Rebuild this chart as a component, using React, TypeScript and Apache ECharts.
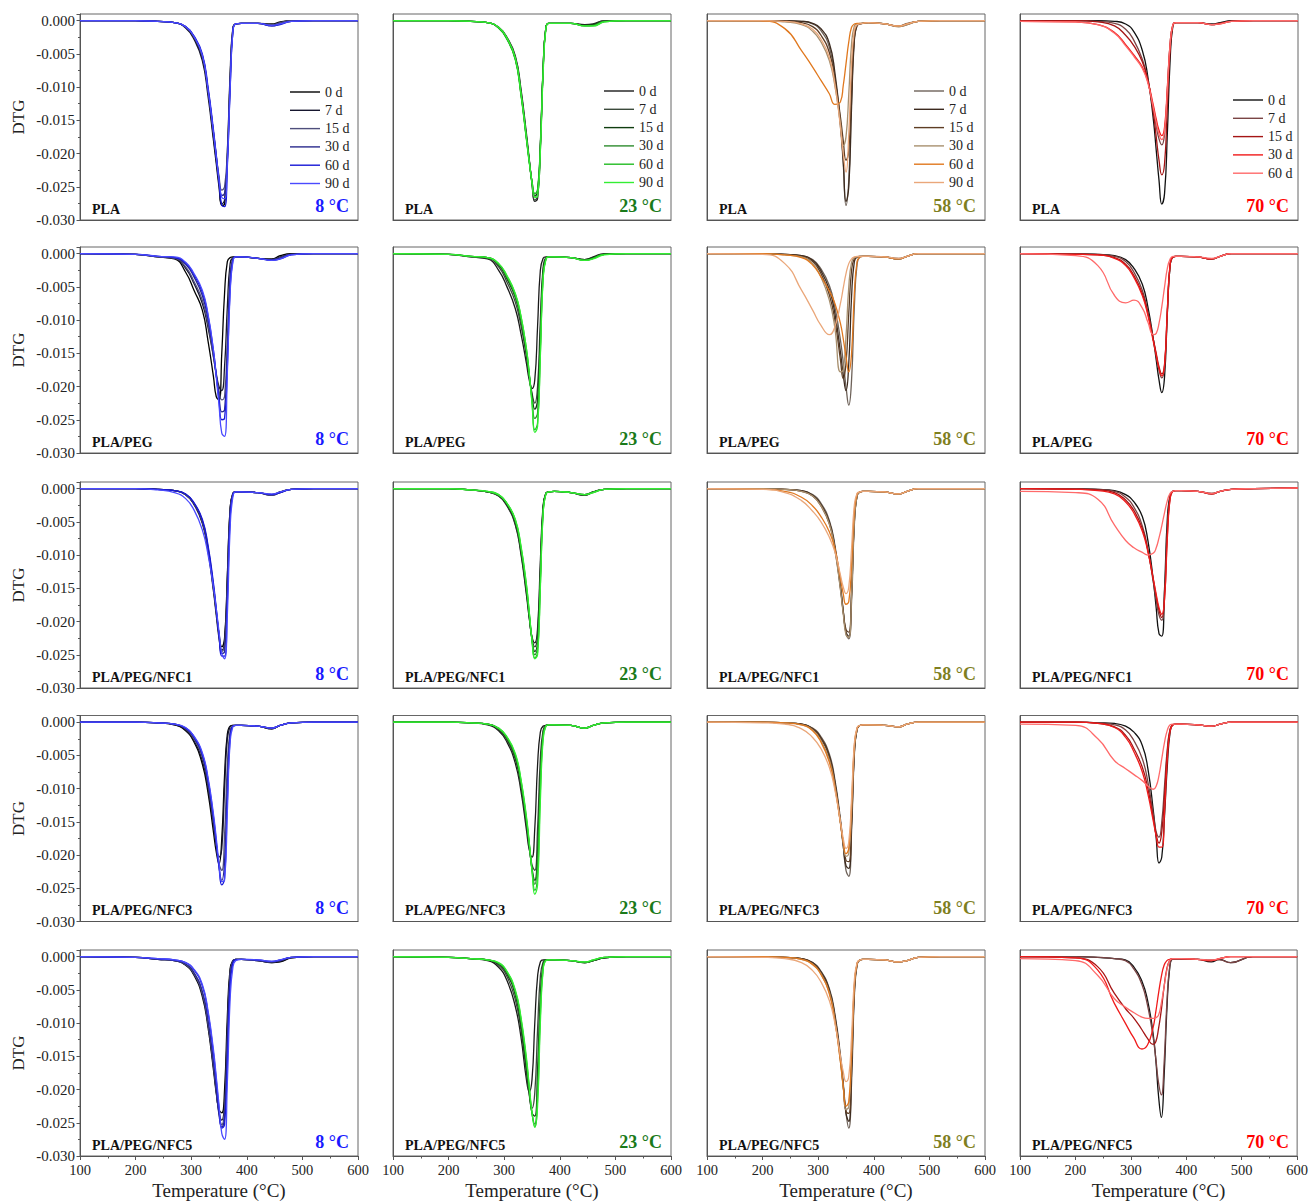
import React, { useEffect, useRef } from 'react';
import * as echarts from 'echarts';

// ---------- data ----------
const temperature = [100, 200, 240, 270, 290, 305, 320, 330, 340, 345, 350, 355, 360, 365, 370, 375, 380, 390, 420, 445, 460, 480, 520, 600];
const xTicks = [100, 200, 300, 400, 500, 600];
const yTicks = [-0.03, -0.025, -0.02, -0.015, -0.01, -0.005, 0];
const materials = ['PLA', 'PLA/PEG', 'PLA/PEG/NFC1', 'PLA/PEG/NFC3', 'PLA/PEG/NFC5'];
const storageTemps = ['8 °C', '23 °C', '58 °C', '70 °C'];
const tempColors = ['#1a1aff', '#1a7a1a', '#7f7f1f', '#ff0000'];
const days6 = ['0 d', '7 d', '15 d', '30 d', '60 d', '90 d'];
const days5 = ['0 d', '7 d', '15 d', '30 d', '60 d'];
const colDays = [days6, days6, days6, days5];
const colors8 = ['#000000', '#16162e', '#4e4e7c', '#2a2a8c', '#1717d6', '#4a4aff'];
const colors23 = ['#1a1a1a', '#3b4a3b', '#0f3d0f', '#2e8b2e', '#22bb22', '#33ee33'];
const colors58 = ['#6e6259', '#3c2a1e', '#5e3d24', '#a8906f', '#e0781e', '#eaa77a'];
const colors70 = ['#111111', '#7a4545', '#a51515', '#f01a1a', '#ff6a6a'];
const colColors = [colors8, colors23, colors58, colors70];

// DTG values in units of 10^-3 (one array per ageing time, sampled at `temperature`)
const PLA_8 = [
  [0,0,-0.1,-0.3,-1.0,-2.6,-5.6,-10.5,-17.5,-21,-24.5,-27.8,-27.6,-21,-9,-1.2,-0.5,-0.4,-0.4,-0.5,-0.2,0,0,0],
  [0,0,-0.1,-0.3,-1.1,-2.8,-6.0,-11.2,-18,-21.5,-25,-27.6,-27,-20,-8,-1,-0.5,-0.4,-0.4,-0.7,-0.3,0,0,0],
  [0,0,-0.1,-0.3,-1.0,-2.5,-5.4,-10.3,-16.8,-20.2,-23.4,-25.5,-25,-19.5,-8.8,-1.2,-0.5,-0.4,-0.4,-0.6,-0.3,0,0,0],
  [0,0,-0.1,-0.3,-0.9,-2.4,-5.2,-10.2,-16.8,-20.4,-23.8,-26.3,-26,-20.8,-9.8,-1.5,-0.5,-0.4,-0.4,-0.8,-0.5,-0.1,0,0],
  [0,0,-0.1,-0.3,-0.9,-2.3,-5.0,-9.8,-16.4,-20.2,-24.2,-27.8,-28,-22,-10.5,-1.6,-0.5,-0.4,-0.4,-0.8,-0.6,-0.1,0,0],
  [0,0,-0.1,-0.3,-0.9,-2.4,-5.2,-10.2,-16.8,-20.4,-23.9,-26.6,-26.8,-21.5,-10.2,-1.6,-0.5,-0.4,-0.4,-0.7,-0.5,-0.1,0,0],
];
const PLA_23 = [
  [0,0,-0.1,-0.3,-1.0,-2.5,-5.3,-10.2,-17,-20.8,-24.5,-27.2,-26.8,-19.5,-7.5,-1.0,-0.4,-0.4,-0.4,-0.6,-0.5,0,0,0],
  [0,0,-0.1,-0.3,-1.0,-2.6,-5.5,-10.5,-17.4,-21,-24.6,-27,-26.4,-19,-7.2,-1.0,-0.4,-0.4,-0.4,-0.7,-0.6,0,0,0],
  [0,0,-0.1,-0.3,-1.1,-2.7,-5.7,-10.8,-17.6,-21,-24.3,-26.4,-25.8,-18.8,-7.2,-1.0,-0.4,-0.4,-0.4,-0.7,-0.6,-0.1,0,0],
  [0,0,-0.1,-0.3,-1.1,-2.8,-5.8,-11,-17.8,-21.2,-24.2,-26.1,-25.4,-18.5,-7,-1.0,-0.4,-0.4,-0.4,-0.8,-0.7,-0.1,0,0],
  [0,0,-0.1,-0.3,-1.1,-2.8,-5.9,-11.1,-17.9,-21.3,-24.2,-26.0,-25.6,-19,-7.5,-1.1,-0.4,-0.4,-0.4,-0.8,-0.8,-0.2,0,0],
  [0,0,-0.1,-0.3,-1.0,-2.6,-5.6,-10.8,-17.6,-21.1,-24.4,-26.6,-26.4,-19.8,-8,-1.2,-0.4,-0.4,-0.4,-0.8,-0.8,-0.2,0,0],
];
const PLA_58 = [
  [0,0,0,-0.1,-0.5,-1.5,-4,-8.5,-16,-21.5,-27.8,-24,-12,-2.5,-0.6,-0.5,-0.4,-0.3,-0.5,-0.8,-0.4,-0.1,0,0],
  [0,0,0,-0.1,-0.4,-1.2,-3.4,-7.8,-15.4,-21,-27.2,-25,-13,-3,-0.7,-0.5,-0.4,-0.3,-0.5,-0.8,-0.5,-0.1,0,0],
  [0,0,-0.1,-0.3,-0.9,-2.2,-4.8,-8.8,-14.5,-18,-21,-19.5,-10,-2.5,-0.7,-0.5,-0.4,-0.3,-0.5,-0.9,-0.6,-0.1,0,0],
  [0,0,-0.2,-0.6,-1.6,-3.2,-6,-9.8,-15.5,-18.8,-17.5,-11,-3.5,-0.8,-0.5,-0.4,-0.4,-0.3,-0.5,-0.9,-0.6,-0.1,0,0],
  [0,-0.05,-1.2,-4.5,-7,-9,-11,-12.6,-12.2,-9.8,-6.5,-3.2,-1.0,-0.5,-0.4,-0.4,-0.4,-0.3,-0.5,-0.8,-0.5,-0.1,0,0],
  [0,0,-0.1,-0.5,-1.3,-2.8,-5.5,-9.5,-16,-20,-22.8,-17,-6.5,-1.5,-0.6,-0.5,-0.4,-0.3,-0.5,-0.8,-0.5,-0.1,0,0],
];
const PLA_70 = [
  [0,0,0,-0.1,-0.5,-1.7,-4.5,-8.5,-15,-19.5,-24,-27.6,-26,-17,-6,-0.8,-0.3,-0.3,-0.3,-0.5,-0.3,0,0,0],
  [0,0,-0.1,-0.4,-1.3,-3,-5.8,-9,-13.5,-15.8,-17.8,-18.7,-17,-10.5,-3.5,-0.6,-0.3,-0.3,-0.3,-0.6,-0.4,-0.1,0,0],
  [0,0,-0.2,-0.8,-2.2,-3.8,-6.2,-9,-14,-17.5,-21,-23.2,-21.5,-13,-4.5,-0.7,-0.3,-0.3,-0.3,-0.6,-0.4,-0.1,0,0],
  [-0.1,-0.2,-0.6,-1.8,-3.6,-5.2,-7,-9.2,-12.8,-14.8,-16.5,-17.3,-16,-10,-3.5,-0.6,-0.3,-0.3,-0.3,-0.6,-0.5,-0.1,0,0],
  [-0.1,-0.2,-0.6,-1.9,-3.8,-5.4,-7.2,-9.4,-13.2,-15.3,-17.1,-17.9,-16.6,-10.5,-3.6,-0.6,-0.3,-0.3,-0.3,-0.6,-0.5,-0.1,0,0],
];
const PEG_8 = [
  [0,-0.1,-0.5,-0.8,-2.8,-5.5,-8.5,-13,-18.5,-21.5,-22,-15,-6,-1.2,-0.6,-0.5,-0.5,-0.5,-0.7,-0.8,-0.3,0,0,0],
  [0,-0.1,-0.5,-0.7,-2.2,-4.5,-7.5,-11,-15.5,-18,-20,-20.6,-17,-8,-1.5,-0.6,-0.5,-0.5,-0.7,-0.9,-0.5,-0.1,0,0],
  [0,-0.1,-0.5,-0.7,-2.0,-4.2,-7,-10.5,-15.5,-18.3,-20.6,-22,-21.5,-13,-3,-0.7,-0.5,-0.5,-0.7,-0.9,-0.6,-0.1,0,0],
  [0,-0.1,-0.4,-0.6,-1.6,-3.5,-6.3,-9.8,-15,-18.3,-21.5,-23.8,-23.5,-15,-4,-0.8,-0.5,-0.5,-0.7,-0.9,-0.7,-0.1,0,0],
  [0,-0.1,-0.4,-0.6,-1.4,-3.2,-5.8,-9.2,-14.6,-18.2,-22,-25,-24.8,-17,-5.5,-1,-0.5,-0.5,-0.7,-1,-0.8,-0.2,0,0],
  [0,-0.1,-0.4,-0.5,-1.3,-3,-5.5,-9,-14.5,-18.5,-22.8,-27,-27.5,-18,-6,-1.2,-0.5,-0.5,-0.7,-1,-0.8,-0.2,0,0],
];
const PEG_23 = [
  [0,-0.1,-0.5,-0.8,-2.5,-5,-8.3,-12,-16.5,-19,-20.3,-19,-11,-2.5,-0.7,-0.5,-0.5,-0.5,-0.6,-0.9,-0.5,0,0,0],
  [0,-0.1,-0.5,-0.7,-2.0,-4.3,-7.3,-10.8,-15.5,-18.5,-21,-22.5,-20,-10,-2,-0.6,-0.5,-0.5,-0.6,-0.9,-0.6,-0.1,0,0],
  [0,-0.1,-0.4,-0.6,-1.7,-3.8,-6.6,-10,-15,-18.3,-21.3,-23.4,-22,-12,-2.5,-0.7,-0.5,-0.5,-0.6,-0.9,-0.6,-0.1,0,0],
  [0,-0.1,-0.4,-0.6,-1.6,-3.6,-6.4,-9.8,-14.8,-18.2,-21.8,-24.8,-24,-14,-3.2,-0.8,-0.5,-0.5,-0.6,-1,-0.7,-0.1,0,0],
  [0,-0.1,-0.4,-0.6,-1.5,-3.4,-6.1,-9.4,-14.4,-18,-22.3,-26.5,-25.5,-15,-3.5,-0.8,-0.5,-0.5,-0.6,-1,-0.7,-0.1,0,0],
  [0,-0.1,-0.4,-0.6,-1.5,-3.3,-6,-9.3,-14.3,-18,-22.5,-26.9,-26,-15.5,-3.8,-0.9,-0.5,-0.5,-0.6,-1,-0.8,-0.2,0,0],
];
const PEG_58 = [
  [0,0,-0.1,-0.3,-0.9,-2.3,-4.8,-8,-13,-16.3,-20,-22.8,-19,-8,-1.5,-0.5,-0.4,-0.4,-0.5,-0.7,-0.4,0,0,0],
  [0,0,-0.1,-0.3,-1.0,-2.6,-5.4,-9,-14.8,-18.2,-20.6,-16.5,-6.5,-1.2,-0.5,-0.4,-0.4,-0.4,-0.5,-0.8,-0.4,0,0,0],
  [0,0,-0.1,-0.4,-1.2,-3,-6.2,-10,-16,-18.8,-16.5,-9,-2.5,-0.7,-0.5,-0.4,-0.4,-0.4,-0.5,-0.8,-0.4,0,0,0],
  [0,0,-0.2,-0.5,-1.5,-3.5,-7,-11.2,-17.8,-17.5,-12.5,-5,-1.3,-0.6,-0.5,-0.4,-0.4,-0.4,-0.5,-0.8,-0.4,0,0,0],
  [0,0,-0.2,-0.6,-1.7,-3.5,-5.6,-7.5,-10.5,-12.8,-15.5,-17.8,-15,-6,-1.2,-0.5,-0.4,-0.4,-0.5,-0.8,-0.4,0,0,0],
  [0,-0.1,-1.5,-5.5,-8.5,-10.8,-12.2,-11,-7.5,-5.2,-3,-1.5,-0.8,-0.5,-0.4,-0.4,-0.4,-0.4,-0.5,-0.7,-0.4,0,0,0],
];
const PEG_70 = [
  [0,0,-0.1,-0.3,-0.9,-2.2,-4.6,-8,-13,-16,-19,-20.9,-18.5,-9,-1.8,-0.5,-0.4,-0.4,-0.5,-0.8,-0.4,0,0,0],
  [0,0,-0.1,-0.4,-1.2,-2.8,-5.5,-8.8,-13,-15.3,-17.5,-18.7,-17,-9,-1.8,-0.5,-0.4,-0.4,-0.5,-0.8,-0.4,0,0,0],
  [0,-0.1,-0.2,-0.6,-1.6,-3.3,-6,-9,-13,-15,-17,-18.1,-16.6,-8.5,-1.6,-0.5,-0.4,-0.4,-0.5,-0.8,-0.4,0,0,0],
  [0,-0.1,-0.2,-0.7,-1.8,-3.6,-6.3,-9.3,-13.3,-15.3,-17.3,-18.4,-16.8,-8.5,-1.6,-0.5,-0.4,-0.4,-0.5,-0.8,-0.4,0,0,0],
  [0,-0.3,-1.8,-6.3,-7.4,-7.0,-8.2,-10.3,-12.2,-12,-10.5,-8,-5,-2.2,-0.8,-0.4,-0.4,-0.4,-0.5,-0.7,-0.4,0,0,0],
];
const NFC1_8 = [
  [0,0,-0.1,-0.3,-0.9,-2.3,-5,-9,-15,-18.5,-21.8,-23.8,-22.5,-13,-3,-0.7,-0.5,-0.5,-0.6,-0.9,-0.5,-0.1,0,0],
  [0,0,-0.1,-0.3,-0.9,-2.4,-5.2,-9.3,-15.4,-19,-22.5,-24.3,-23,-13.5,-3,-0.7,-0.5,-0.5,-0.6,-1,-0.5,-0.1,0,0],
  [0,0,-0.1,-0.3,-0.9,-2.3,-5,-9,-15,-18.6,-22,-24.5,-23.8,-14.5,-3.5,-0.8,-0.5,-0.5,-0.6,-1,-0.6,-0.1,0,0],
  [0,0,-0.1,-0.3,-0.8,-2.2,-4.8,-8.7,-14.6,-18.3,-22,-24.8,-24.5,-16,-4,-0.8,-0.5,-0.5,-0.6,-0.9,-0.6,-0.1,0,0],
  [0,0,-0.1,-0.3,-0.8,-2.1,-4.6,-8.4,-14.2,-18,-22,-25.2,-25.2,-17,-4.5,-0.9,-0.5,-0.5,-0.6,-0.9,-0.6,-0.1,0,0],
  [0,0,-0.2,-0.6,-1.5,-3.2,-6.2,-9.8,-14.8,-18,-21.5,-24.8,-25.6,-19,-6,-1.2,-0.5,-0.5,-0.6,-0.8,-0.5,-0.1,0,0],
];
const NFC1_23 = [
  [0,0,-0.2,-0.5,-1.1,-2.6,-5.5,-9.8,-16,-19.5,-22.3,-23.2,-21,-11,-2.5,-0.7,-0.5,-0.4,-0.6,-1,-0.5,-0.1,0,0],
  [0,0,-0.2,-0.5,-1.1,-2.5,-5.3,-9.5,-15.6,-19.3,-22.5,-23.8,-22,-12,-2.8,-0.7,-0.5,-0.4,-0.6,-1,-0.5,-0.1,0,0],
  [0,0,-0.2,-0.5,-1.0,-2.4,-5.1,-9.2,-15.3,-19.1,-22.7,-24.5,-23,-13,-3,-0.7,-0.5,-0.4,-0.6,-0.9,-0.5,-0.1,0,0],
  [0,0,-0.2,-0.5,-1.0,-2.3,-4.9,-9,-15,-18.9,-22.8,-25,-23.8,-13.5,-3.2,-0.7,-0.5,-0.4,-0.6,-0.9,-0.5,-0.1,0,0],
  [0,0,-0.2,-0.4,-0.9,-2.2,-4.7,-8.7,-14.6,-18.6,-22.8,-25.5,-24.6,-14.5,-3.5,-0.8,-0.5,-0.4,-0.6,-0.9,-0.6,-0.1,0,0],
  [0,0,-0.2,-0.4,-0.9,-2.2,-4.6,-8.5,-14.4,-18.5,-22.8,-25.6,-25,-15,-3.8,-0.8,-0.5,-0.4,-0.6,-0.9,-0.6,-0.1,0,0],
];
const NFC1_58 = [
  [0,0,-0.1,-0.3,-0.9,-2.2,-4.8,-8.5,-14.5,-18.3,-21.8,-22.6,-17,-5.5,-1,-0.5,-0.4,-0.4,-0.5,-0.8,-0.4,0,0,0],
  [0,0,-0.1,-0.3,-1.0,-2.4,-5,-8.8,-14.8,-18.5,-21.6,-22.2,-16,-5,-1,-0.5,-0.4,-0.4,-0.5,-0.8,-0.4,0,0,0],
  [0,0,-0.1,-0.4,-1.1,-2.6,-5.3,-9.1,-15,-18.5,-21.2,-21.6,-15.5,-4.8,-1,-0.5,-0.4,-0.4,-0.5,-0.8,-0.4,0,0,0],
  [0,0,-0.1,-0.4,-1.1,-2.6,-5.3,-9.2,-15.2,-18.8,-22,-22.4,-16.2,-5,-1,-0.5,-0.4,-0.4,-0.5,-0.8,-0.4,0,0,0],
  [0,-0.1,-0.4,-1.3,-2.6,-4.2,-6.5,-9,-13.5,-15.8,-17.4,-17,-11.5,-3.5,-0.8,-0.5,-0.4,-0.4,-0.5,-0.8,-0.4,0,0,0],
  [0,-0.1,-0.6,-1.8,-3.4,-5,-7.3,-9.5,-13,-14.8,-15.8,-14.8,-9,-2.5,-0.7,-0.5,-0.4,-0.4,-0.5,-0.8,-0.4,0,0,0],
];
const NFC1_70 = [
  [0,0,-0.1,-0.3,-0.9,-2,-4.2,-7.8,-14,-18,-21.8,-22.2,-15,-4.5,-0.9,-0.4,-0.3,-0.3,-0.4,-0.7,-0.4,-0.1,0,0.1],
  [0,0,-0.1,-0.4,-1.3,-2.8,-5.6,-9.2,-14.2,-16.8,-19,-19.8,-15.5,-6,-1.2,-0.4,-0.3,-0.3,-0.4,-0.8,-0.4,-0.1,0,0.1],
  [0,-0.1,-0.2,-0.6,-1.7,-3.3,-6,-9.3,-13.8,-16.2,-18.3,-19.4,-16.5,-7,-1.4,-0.4,-0.3,-0.3,-0.4,-0.8,-0.4,-0.1,0,0.1],
  [0,-0.1,-0.3,-0.8,-2,-3.7,-6.4,-9.5,-13.7,-15.9,-17.9,-18.9,-16.5,-7.5,-1.5,-0.4,-0.3,-0.3,-0.4,-0.8,-0.4,-0.1,0,0.1],
  [-0.4,-0.6,-1.6,-5.5,-7.8,-8.9,-9.6,-10,-9.7,-8.9,-7.4,-5.6,-3.6,-1.8,-0.7,-0.4,-0.3,-0.3,-0.4,-0.7,-0.4,-0.1,0,0.1],
];
const NFC3_8 = [
  [0,0,-0.1,-0.4,-1.3,-3,-6.3,-10.5,-16.5,-19.5,-21.3,-17.5,-8,-1.8,-0.6,-0.5,-0.5,-0.5,-0.6,-1,-0.5,-0.1,0,0],
  [0,0,-0.1,-0.4,-1.2,-2.8,-5.8,-9.8,-15.5,-18.5,-20.3,-19,-10,-2.5,-0.7,-0.5,-0.5,-0.5,-0.6,-1,-0.5,-0.1,0,0],
  [0,0,-0.1,-0.3,-1,-2.5,-5.3,-9.2,-15,-18.4,-21.3,-22.3,-17,-6.5,-1.3,-0.6,-0.5,-0.5,-0.6,-0.9,-0.5,-0.1,0,0],
  [0,0,-0.1,-0.3,-0.9,-2.3,-5,-8.8,-14.6,-18.2,-21.8,-23.8,-21,-9.5,-2,-0.6,-0.5,-0.5,-0.6,-0.9,-0.5,-0.1,0,0],
  [0,0,-0.1,-0.3,-0.9,-2.2,-4.8,-8.5,-14.2,-17.9,-21.8,-24.5,-23.5,-12,-2.5,-0.6,-0.5,-0.5,-0.6,-0.9,-0.5,-0.1,0,0],
  [0,0,-0.1,-0.3,-0.8,-2.1,-4.6,-8.2,-13.8,-17.4,-21.2,-24,-23.8,-13.5,-3,-0.7,-0.5,-0.5,-0.6,-0.9,-0.5,-0.1,0,0],
];
const NFC3_23 = [
  [0,0,-0.1,-0.4,-1.3,-3,-6.2,-10.3,-16.2,-19.2,-20.3,-16,-6.5,-1.5,-0.6,-0.5,-0.4,-0.4,-0.5,-0.9,-0.5,-0.1,0,0],
  [0,0,-0.1,-0.3,-1.1,-2.7,-5.6,-9.6,-15.4,-18.8,-21.5,-22.3,-16,-5.5,-1.2,-0.5,-0.4,-0.4,-0.5,-0.9,-0.5,-0.1,0,0],
  [0,0,-0.1,-0.3,-1,-2.5,-5.3,-9.2,-15,-18.5,-22,-23.8,-19.5,-8,-1.6,-0.5,-0.4,-0.4,-0.5,-0.9,-0.5,-0.1,0,0],
  [0,0,-0.1,-0.3,-1,-2.4,-5.1,-9,-14.8,-18.4,-22.2,-24.4,-21,-9,-1.8,-0.5,-0.4,-0.4,-0.5,-0.9,-0.5,-0.1,0,0],
  [0,0,-0.1,-0.3,-0.9,-2.3,-4.9,-8.7,-14.5,-18.2,-22.3,-25.3,-23,-10.5,-2.2,-0.6,-0.4,-0.4,-0.5,-0.9,-0.5,-0.1,0,0],
  [0,0,-0.1,-0.3,-0.9,-2.2,-4.7,-8.5,-14.2,-18,-22.3,-25.9,-24.5,-12,-2.6,-0.6,-0.4,-0.4,-0.5,-0.9,-0.5,-0.1,0,0],
];
const NFC3_58 = [
  [0,0,-0.1,-0.3,-0.9,-2.2,-4.8,-8.6,-14.6,-18.5,-22.3,-23.2,-16.5,-5,-1,-0.5,-0.4,-0.4,-0.5,-0.7,-0.3,0,0,0],
  [0,0,-0.1,-0.3,-1,-2.4,-5.1,-9,-15,-18.6,-21.6,-22,-15.5,-4.6,-1,-0.5,-0.4,-0.4,-0.5,-0.7,-0.3,0,0,0],
  [0,0,-0.1,-0.3,-1,-2.5,-5.3,-9.2,-15,-18.2,-20.8,-21,-15,-4.5,-1,-0.5,-0.4,-0.4,-0.5,-0.7,-0.3,0,0,0],
  [0,0,-0.1,-0.4,-1.2,-2.8,-5.7,-9.6,-15.2,-18.2,-20.2,-19.8,-13.5,-4,-0.9,-0.5,-0.4,-0.4,-0.5,-0.7,-0.3,0,0,0],
  [0,0,-0.1,-0.4,-1.3,-3,-6,-9.8,-15.2,-18,-19.8,-19,-12.5,-3.6,-0.9,-0.5,-0.4,-0.4,-0.5,-0.7,-0.3,0,0,0],
  [0,-0.1,-0.3,-1,-2.3,-4,-6.8,-10.2,-15,-17.5,-19,-18,-11.5,-3.3,-0.8,-0.5,-0.4,-0.4,-0.5,-0.7,-0.3,0,0,0],
];
const NFC3_70 = [
  [0,0,-0.1,-0.2,-0.6,-1.5,-3.5,-7,-13.5,-17.5,-21.2,-20.3,-14,-6.5,-1.5,-0.4,-0.3,-0.3,-0.4,-0.6,-0.3,0,0,0],
  [0,0,-0.1,-0.4,-1.2,-2.8,-5.5,-9,-14,-16.5,-17.3,-15,-9.5,-4,-1,-0.4,-0.3,-0.3,-0.4,-0.6,-0.3,0,0,0],
  [0,0,-0.2,-0.7,-2,-4,-6.8,-10,-14.6,-17,-18.2,-16.5,-11,-4.5,-1.1,-0.4,-0.3,-0.3,-0.4,-0.6,-0.3,0,0,0],
  [0,0,-0.2,-0.8,-2.3,-4.5,-7.5,-10.8,-15,-17.2,-18.8,-18.8,-13.5,-5.5,-1.3,-0.4,-0.3,-0.3,-0.4,-0.6,-0.3,0,0,0],
  [-0.3,-0.5,-2.5,-5.8,-7,-7.9,-8.8,-9.6,-10.1,-9.6,-8,-5.5,-3,-1.2,-0.4,-0.3,-0.3,-0.3,-0.4,-0.6,-0.3,0,0,0],
];
const NFC5_8 = [
  [0,-0.1,-0.4,-0.6,-1.3,-2.8,-6,-10.5,-17,-20.5,-23,-23.5,-20,-9,-1.8,-0.6,-0.4,-0.4,-0.6,-0.9,-0.8,-0.2,0,0],
  [0,-0.1,-0.4,-0.6,-1.2,-2.6,-5.6,-10,-16.5,-20.2,-23.4,-24.6,-22,-11,-2.2,-0.6,-0.4,-0.4,-0.6,-0.9,-0.7,-0.2,0,0],
  [0,-0.1,-0.4,-0.6,-1.2,-2.6,-5.6,-10,-16.4,-20.2,-23.6,-25.3,-23,-12,-2.5,-0.6,-0.4,-0.4,-0.6,-0.8,-0.6,-0.1,0,0],
  [0,-0.1,-0.4,-0.6,-1.1,-2.4,-5.2,-9.5,-16,-20,-23.8,-25.6,-24.3,-13.5,-3,-0.7,-0.4,-0.4,-0.6,-0.8,-0.6,-0.1,0,0],
  [0,-0.1,-0.3,-0.5,-0.9,-2,-4.4,-8.3,-14.5,-18.5,-22.8,-25.8,-25.3,-16,-4.5,-1,-0.5,-0.4,-0.5,-0.7,-0.5,-0.1,0,0],
  [0,-0.1,-0.3,-0.5,-0.9,-1.9,-4.2,-8,-14,-18,-22.3,-26.6,-27.5,-19,-6.5,-1.6,-0.6,-0.4,-0.5,-0.7,-0.5,-0.1,0,0],
];
const NFC5_23 = [
  [0,-0.1,-0.3,-0.6,-1.6,-3.6,-7.5,-12,-18.5,-20.3,-18.5,-10,-3,-0.8,-0.5,-0.5,-0.5,-0.5,-0.6,-0.9,-0.6,-0.2,0,0],
  [0,-0.1,-0.3,-0.5,-1.3,-3,-6.5,-11,-17.5,-20.8,-22.8,-20.5,-11,-3,-0.8,-0.5,-0.5,-0.5,-0.6,-0.9,-0.6,-0.2,0,0],
  [0,-0.1,-0.3,-0.5,-1.1,-2.6,-5.8,-10.2,-16.8,-20.5,-23.5,-24,-17,-6,-1.2,-0.5,-0.5,-0.5,-0.6,-0.9,-0.6,-0.2,0,0],
  [0,-0.1,-0.3,-0.5,-1,-2.4,-5.4,-9.6,-16,-20,-23.6,-25.2,-20,-8,-1.5,-0.5,-0.5,-0.5,-0.6,-0.9,-0.6,-0.1,0,0],
  [0,-0.1,-0.3,-0.5,-1,-2.3,-5.2,-9.3,-15.6,-19.7,-23.6,-25.6,-21.5,-9,-1.8,-0.6,-0.5,-0.5,-0.6,-0.8,-0.5,-0.1,0,0],
  [0,-0.1,-0.3,-0.5,-0.9,-2.2,-5,-9,-15.2,-19.4,-23.4,-25.7,-22.5,-10,-2,-0.6,-0.5,-0.5,-0.6,-0.8,-0.5,-0.1,0,0],
];
const NFC5_58 = [
  [0,0,-0.1,-0.3,-0.9,-2.2,-4.8,-8.6,-14.8,-19,-23.5,-25.8,-19,-6,-1.2,-0.5,-0.4,-0.4,-0.5,-0.8,-0.6,-0.1,0,0],
  [0,0,-0.1,-0.3,-0.9,-2.3,-5,-8.9,-15.2,-19.3,-23.6,-24.8,-17.5,-5.5,-1.1,-0.5,-0.4,-0.4,-0.5,-0.8,-0.6,-0.1,0,0],
  [0,0,-0.1,-0.3,-1,-2.4,-5.2,-9.2,-15.5,-19.5,-23.3,-23.6,-16,-5,-1,-0.5,-0.4,-0.4,-0.5,-0.8,-0.6,-0.1,0,0],
  [0,0,-0.1,-0.4,-1.1,-2.6,-5.4,-9.5,-15.8,-19.6,-23,-22.6,-15,-4.6,-1,-0.5,-0.4,-0.4,-0.5,-0.8,-0.6,-0.1,0,0],
  [0,0,-0.1,-0.4,-1.2,-2.7,-5.6,-9.7,-15.8,-19.5,-22.5,-21.8,-14.5,-4.4,-1,-0.5,-0.4,-0.4,-0.5,-0.8,-0.6,-0.1,0,0],
  [0,-0.1,-0.3,-0.9,-2.1,-3.8,-6.6,-10,-15,-17.3,-18.8,-18,-12,-3.6,-0.9,-0.5,-0.4,-0.4,-0.5,-0.8,-0.6,-0.1,0,0],
];
const NFC5_70 = [
  [0,0,-0.1,-0.3,-0.5,-1.5,-3.7,-6.5,-11.5,-15.5,-21,-24.2,-18,-8,-1.8,-0.4,-0.4,-0.4,-0.4,-0.8,-0.4,-0.9,0,0],
  [0,0,-0.1,-0.3,-0.6,-1.8,-4.2,-7.3,-12,-15.3,-19,-20.8,-16,-7,-1.6,-0.4,-0.4,-0.4,-0.4,-0.5,-0.5,-0.9,0,0],
  [0,-0.2,-1.5,-5.5,-7.8,-9.2,-11,-12.3,-13.2,-12.8,-10.8,-8,-4.5,-1.8,-0.6,-0.3,-0.3,-0.3,-0.4,-0.6,-0.3,0,0,0],
  [0,-0.2,-2,-7,-10,-12.2,-13.9,-13.3,-10.7,-8.3,-5.5,-3,-1.3,-0.6,-0.4,-0.3,-0.3,-0.3,-0.4,-0.6,-0.3,0,0,0],
  [-0.3,-0.6,-2.8,-6.3,-7.6,-8.4,-9.1,-9.3,-9.3,-9.2,-8.8,-7,-4.5,-2,-0.6,-0.3,-0.3,-0.3,-0.4,-0.5,-0.3,0,0,0],
];

const panels = [
  [PLA_8, PLA_23, PLA_58, PLA_70],
  [PEG_8, PEG_23, PEG_58, PEG_70],
  [NFC1_8, NFC1_23, NFC1_58, NFC1_70],
  [NFC3_8, NFC3_23, NFC3_58, NFC3_70],
  [NFC5_8, NFC5_23, NFC5_58, NFC5_70],
];

// ---------- layout ----------
const gridLeft = [80, 393, 707, 1020];
const gridTop = [14, 247, 482, 715.5, 950];
const gridW = 278;
const gridH = 206;
const legendPos = [[285, 80], [599, 79], [909, 79], [1228, 88]];
const FONT = '"Liberation Serif", "Times New Roman", "DejaVu Serif", serif';

function buildOption() {
  const grid: any[] = [];
  const xAxis: any[] = [];
  const yAxis: any[] = [];
  const series: any[] = [];
  const graphic: any[] = [];
  let idx = 0;
  for (let r = 0; r < materials.length; r++) {
    for (let c = 0; c < storageTemps.length; c++) {
      const left = gridLeft[c];
      const top = gridTop[r];
      grid.push({ left, top, width: gridW, height: gridH, show: true, borderColor: '#666', borderWidth: 1, backgroundColor: 'transparent' });
      const bottomRow = r === materials.length - 1;
      const firstCol = c === 0;
      xAxis.push({
        type: 'value', gridIndex: idx, min: xTicks[0], max: xTicks[xTicks.length - 1], interval: 100,
        axisLine: { show: true, onZero: false, lineStyle: { color: '#555', width: 1 } },
        axisTick: { show: bottomRow, length: 4, lineStyle: { color: '#555' } },
        minorTick: { show: bottomRow, splitNumber: 2, length: 2.5, lineStyle: { color: '#555' } },
        axisLabel: { show: bottomRow, margin: 6, fontSize: 14.5, fontFamily: FONT, color: '#222' },
        splitLine: { show: false },
        name: bottomRow ? 'Temperature (°C)' : '',
        nameLocation: 'middle', nameGap: 25,
        nameTextStyle: { fontSize: 19, fontFamily: FONT, color: '#222', verticalAlign: 'top' },
      });
      yAxis.push({
        type: 'value', gridIndex: idx, min: yTicks[0], max: 0.001, interval: 0.005,
        axisLine: { show: true, onZero: false, lineStyle: { color: '#555', width: 1 } },
        axisTick: { show: firstCol, length: 3.5, lineStyle: { color: '#555' } },
        minorTick: { show: firstCol, splitNumber: 2, length: 2, lineStyle: { color: '#555' } },
        axisLabel: {
          show: firstCol, margin: 5, fontSize: 15, fontFamily: FONT, color: '#222',
          showMaxLabel: false, showMinLabel: true,
          formatter: (v: number) => (v > 0.0005 ? '' : Math.abs(v) < 1e-9 ? '0.000' : v.toFixed(3)),
        },
        splitLine: { show: false },
        name: firstCol ? 'DTG' : '',
        nameLocation: 'middle', nameGap: 53, nameRotate: 90,
        nameTextStyle: { fontSize: 17, fontFamily: FONT, color: '#222' },
      });
      const data = panels[r][c];
      const names = colDays[c];
      data.forEach((vals: number[], k: number) => {
        series.push({
          type: 'line',
          name: `${storageTemps[c]}|${names[k]}`,
          xAxisIndex: idx, yAxisIndex: idx,
          data: temperature.map((t, i) => [t, vals[i] / 1000]),
          showSymbol: false, symbol: 'none',
          smooth: 0.5,
          lineStyle: { color: colColors[c][k], width: 1.3 },
          itemStyle: { color: colColors[c][k] },
          silent: true,
          emphasis: { disabled: true },
          z: 2 + k,
        });
      });
      graphic.push({
        type: 'text', left: left + 12, top: top + gridH - 18,
        style: { text: materials[r], font: `bold 14px ${FONT}`, fill: '#111' },
        silent: true,
      });
      graphic.push({
        type: 'text', right: 1311 - (left + gridW - 9), top: top + gridH - 23,
        style: { text: storageTemps[c], font: `bold 18px ${FONT}`, fill: tempColors[c] },
        silent: true,
      });
      idx++;
    }
  }
  const legend = storageTemps.map((t, c) => ({
    orient: 'vertical',
    left: legendPos[c][0], top: legendPos[c][1],
    icon: 'rect',
    itemWidth: 30, itemHeight: 1.4, itemGap: 4.3,
    selectedMode: false,
    data: colDays[c].map((d) => `${t}|${d}`),
    formatter: (name: string) => name.split('|')[1],
    textStyle: { fontSize: 14, fontFamily: FONT, color: '#222', lineHeight: 14 },
  }));
  return {
    animation: false,
    backgroundColor: '#ffffff',
    grid, xAxis, yAxis, series, legend, graphic,
  };
}

export default function App() {
  const ref = useRef<HTMLDivElement>(null);
  useEffect(() => {
    if (!ref.current) return;
    const chart = echarts.init(ref.current, undefined, { renderer: 'svg' });
    chart.setOption(buildOption() as any);
    return () => chart.dispose();
  }, []);
  return (
    <div
      ref={ref}
      style={{ position: 'absolute', left: 0, top: 0, width: 1311, height: 1201, background: '#fff' }}
    />
  );
}
